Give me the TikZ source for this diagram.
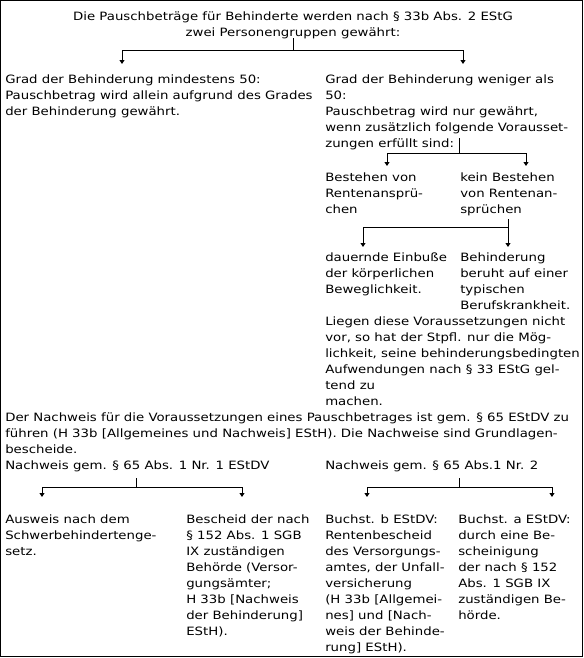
\documentclass[tikz,border=0pt]{standalone}
\usepackage{fontspec}
\setmainfont{DejaVu Sans}[FakeStretch=1.16]
\usetikzlibrary{arrows.meta}
\newcommand{\firstln}{\rule{0pt}{9pt}}
\begin{document}
\begin{tikzpicture}[x=0.75pt,y=-0.75pt,
  txt/.style={anchor=north west, inner sep=0pt, align=left, font=\fontsize{8.6}{12}\selectfont},
  ctxt/.style={anchor=north, inner sep=0pt, align=center, font=\fontsize{8.6}{12}\selectfont},
  conn/.style={line width=0.75pt},
  arr/.style={conn, -{Triangle[width=3.75pt,length=3pt]}}]
\useasboundingbox (0,0) rectangle (584,658);
\draw[line width=0.75pt] (0.5,0.5) rectangle (582.5,656.5);

% texts
\node[ctxt] (top) at (293,8) {\firstln Die Pauschbeträge für Behinderte werden nach § 33b Abs. 2 EStG\\zwei Personengruppen gewährt:};
\node[txt] (gl) at (5,71) {\firstln Grad der Behinderung mindestens 50:\\Pauschbetrag wird allein aufgrund des Grades\\der Behinderung gewährt.};
\node[txt] (gr) at (325,71) {\firstln Grad der Behinderung weniger als\\50:\\Pauschbetrag wird nur gewährt,\\wenn zusätzlich folgende Vorausset-\\zungen erfüllt sind:};
\node[txt] (br) at (325,169) {\firstln Bestehen von\\Rentenansprü-\\chen};
\node[txt] (kb) at (460,169) {\firstln kein Bestehen\\von Rentenan-\\sprüchen};
\node[txt] (de) at (325,249) {\firstln dauernde Einbuße\\der körperlichen\\Beweglichkeit.};
\node[txt] (bb) at (460,249) {\firstln Behinderung\\beruht auf einer\\typischen\\Berufskrankheit.};
\node[txt] (lv) at (325,313) {\firstln Liegen diese Voraussetzungen nicht\\vor, so hat der Stpfl. nur die Mög-\\lichkeit, seine behinderungsbedingten\\Aufwendungen nach § 33 EStG gel-\\tend zu\\machen.};
\node[txt] (dn) at (5,409) {\firstln Der Nachweis für die Voraussetzungen eines Pauschbetrages ist gem. § 65 EStDV zu\\führen (H 33b [Allgemeines und Nachweis] EStH). Die Nachweise sind Grundlagen-\\bescheide.};
\node[txt] (n1) at (5,457) {\firstln Nachweis gem. § 65 Abs. 1 Nr. 1 EStDV};
\node[txt] (n2) at (325,457) {\firstln Nachweis gem. § 65 Abs.1 Nr. 2};
\node[txt] (aw) at (5,511) {\firstln Ausweis nach dem\\Schwerbehindertenge-\\setz.};
\node[txt] (bs) at (186,511) {\firstln Bescheid der nach\\§ 152 Abs. 1 SGB\\IX zuständigen\\Behörde (Versor-\\gungsämter;\\H 33b [Nachweis\\der Behinderung]\\EStH).};
\node[txt] (bb2) at (325,511) {\firstln Buchst. b EStDV:\\Rentenbescheid\\des Versorgungs-\\amtes, der Unfall-\\versicherung\\(H 33b [Allgemei-\\nes] und [Nach-\\weis der Behinde-\\rung] EStH).};
\node[txt] (ba) at (458,511) {\firstln Buchst. a EStDV:\\durch eine Be-\\scheinigung\\der nach § 152\\Abs. 1 SGB IX\\zuständigen Be-\\hörde.};

% connector points
\coordinate (s1) at (293,38);  \coordinate (j1) at (293,50);
\coordinate (l1) at (122,50);  \coordinate (r1) at (463,50);
\coordinate (l1t) at (122,64); \coordinate (r1t) at (463,64);

\coordinate (s2) at (459,138); \coordinate (j2) at (459,153);
\coordinate (l2) at (387,153); \coordinate (r2) at (526,153);
\coordinate (l2t) at (387,166); \coordinate (r2t) at (526,166);

\coordinate (s3) at (508,219); \coordinate (j3) at (508,227);
\coordinate (l3) at (363,227);
\coordinate (l3t) at (363,247); \coordinate (r3t) at (508,247);

\coordinate (s4) at (136,478); \coordinate (j4) at (136,487);
\coordinate (l4) at (42,487);  \coordinate (r4) at (242,487);
\coordinate (l4t) at (42,497); \coordinate (r4t) at (242,497);

\coordinate (s5) at (459,478); \coordinate (j5) at (459,487);
\coordinate (l5) at (367,487); \coordinate (r5) at (552,487);
\coordinate (l5t) at (367,497); \coordinate (r5t) at (552,497);

% connectors
\draw[conn] (s1) -- (j1);
\draw[arr] (j1) -- (l1) -- (l1t);
\draw[arr] (j1) -- (r1) -- (r1t);
\draw[conn] (s2) -- (j2);
\draw[arr] (j2) -- (l2) -- (l2t);
\draw[arr] (j2) -- (r2) -- (r2t);
\draw[arr] (s3) -- (j3) -- (l3) -- (l3t);
\draw[arr] (j3) -- (r3t);
\draw[conn] (s4) -- (j4);
\draw[arr] (j4) -- (l4) -- (l4t);
\draw[arr] (j4) -- (r4) -- (r4t);
\draw[conn] (s5) -- (j5);
\draw[arr] (j5) -- (l5) -- (l5t);
\draw[arr] (j5) -- (r5) -- (r5t);
\end{tikzpicture}
\end{document}
